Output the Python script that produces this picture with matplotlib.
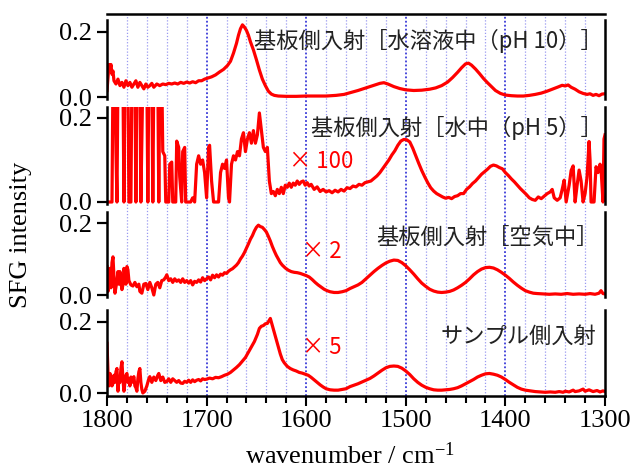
import matplotlib
matplotlib.use("Agg")
import matplotlib.pyplot as plt
import numpy as np

plt.rcParams['font.family'] = ['Liberation Serif', 'DejaVu Serif']
plt.rcParams['mathtext.fontset'] = 'custom'
plt.rcParams['mathtext.rm'] = 'Liberation Serif'
plt.rcParams['mathtext.it'] = 'Liberation Serif'

# ---------------- data ----------------
wn_ph10 = [1800, 1799, 1798, 1797, 1796, 1795, 1794, 1793, 1791, 1789, 1787, 1785, 1783, 1781, 1779,
           1777, 1775, 1773, 1771, 1769, 1767, 1765, 1763, 1761, 1759, 1757, 1755, 1753, 1750, 1747,
           1744, 1741, 1738, 1735, 1732, 1729, 1726, 1723, 1720, 1717, 1714, 1711, 1708, 1705, 1702,
           1699, 1695, 1691, 1687, 1683, 1679, 1676, 1673, 1670, 1668, 1666, 1664, 1662, 1660, 1658,
           1656, 1653, 1650, 1647, 1644, 1641, 1638, 1635, 1632, 1628, 1620, 1610, 1600, 1590, 1580,
           1570, 1562, 1555, 1548, 1540, 1532, 1526, 1522, 1518, 1512, 1506, 1500, 1492, 1484, 1476,
           1470, 1464, 1458, 1453, 1448, 1444, 1440, 1437, 1434, 1430, 1426, 1422, 1418, 1414, 1410,
           1405, 1400, 1394, 1388, 1382, 1376, 1370, 1364, 1358, 1352, 1347, 1343, 1340, 1337, 1334,
           1330, 1326, 1322, 1318, 1315, 1312, 1309, 1306, 1303, 1300]
sfg_ph10 = [0.02, 0.06, 0.10, 0.085, 0.10, 0.07, 0.08, 0.05, 0.04, 0.055, 0.035, 0.045, 0.03, 0.05, 0.035,
            0.045, 0.03, 0.04, 0.05, 0.03, 0.045, 0.035, 0.025, 0.04, 0.03, 0.035, 0.042, 0.03, 0.04, 0.035,
            0.04, 0.038, 0.042, 0.04, 0.043, 0.04, 0.045, 0.042, 0.046, 0.043, 0.047, 0.044, 0.05, 0.05, 0.055,
            0.058, 0.062, 0.068, 0.077, 0.085, 0.097, 0.11, 0.135, 0.165, 0.19, 0.21, 0.222, 0.215, 0.205, 0.19,
            0.17, 0.145, 0.115, 0.083, 0.055, 0.035, 0.018, 0.009, 0.005, 0.003, 0.002, 0.002, 0.003, 0.003, 0.003,
            0.005, 0.008, 0.014, 0.02, 0.028, 0.036, 0.042, 0.044, 0.04, 0.032, 0.026, 0.022, 0.02, 0.021, 0.024,
            0.028, 0.035, 0.046, 0.06, 0.076, 0.09, 0.102, 0.104, 0.098, 0.086, 0.072, 0.057, 0.044, 0.032, 0.02,
            0.011, 0.006, 0.004, 0.003, 0.003, 0.005, 0.008, 0.012, 0.018, 0.025, 0.031, 0.036, 0.034, 0.037, 0.03,
            0.024, 0.016, 0.011, 0.008, 0.01, 0.005, 0.008, 0.004, 0.009, 0.01]

wn_ph5 = [1800, 1795, 1794, 1792, 1791, 1790, 1789, 1784, 1783, 1782, 1779, 1778, 1776, 1775, 1772,
          1771, 1770, 1767, 1766, 1764, 1760, 1759, 1758, 1755, 1754, 1753, 1749, 1748, 1747, 1745,
          1744, 1742, 1741, 1738, 1737, 1735, 1734, 1731, 1730, 1728, 1727, 1725, 1724, 1722, 1721,
          1716, 1714, 1712, 1710, 1708, 1706, 1704, 1702, 1700, 1698, 1697, 1695, 1693, 1688, 1686,
          1684, 1682, 1680, 1678, 1677, 1675, 1673, 1671, 1669, 1667, 1665, 1663, 1661, 1659, 1657,
          1655, 1653, 1651, 1649, 1647, 1645, 1643, 1641, 1639, 1637, 1635, 1633, 1631, 1629, 1627,
          1625, 1623, 1621, 1619, 1617, 1615, 1613, 1611, 1609, 1607, 1605, 1603, 1601, 1599, 1597,
          1595, 1592, 1589, 1586, 1583, 1580, 1577, 1574, 1571, 1568, 1565, 1562, 1559, 1556, 1553,
          1550, 1547, 1544, 1541, 1538, 1535, 1532, 1529, 1526, 1523, 1520, 1517, 1514, 1511, 1508,
          1505, 1502, 1499, 1496, 1493, 1490, 1487, 1484, 1481, 1478, 1475, 1472, 1469, 1466, 1463,
          1460, 1457, 1454, 1451, 1448, 1445, 1442, 1439, 1436, 1433, 1430, 1427, 1424, 1421, 1418,
          1415, 1412, 1409, 1406, 1403, 1400, 1397, 1394, 1391, 1388, 1385, 1382, 1379, 1376, 1373,
          1370, 1367, 1364, 1361, 1358, 1355, 1353, 1351, 1348, 1345, 1343, 1341, 1339, 1336, 1334,
          1332, 1330, 1328, 1326, 1324, 1322, 1320, 1318, 1316, 1315, 1314, 1311, 1309, 1307, 1305,
          1304, 1302, 1301, 1300]
sfg_ph5 = [0.0, 0.0, 0.3, 0.3, 0.12, 0.0, 0.3, 0.3, 0.0, 0.3, 0.3, 0.0, 0.0, 0.3, 0.3,
           0.0, 0.3, 0.3, 0.0, 0.3, 0.3, 0.0, 0.3, 0.3, 0.0, 0.3, 0.3, 0.0, 0.3, 0.3,
           0.12, 0.11, 0.0, 0.0, 0.09, 0.095, 0.0, 0.0, 0.145, 0.13, 0.06, 0.0, 0.12, 0.13, 0.0,
           0.0, 0.01, 0.0, 0.09, 0.11, 0.09, 0.1, 0.07, 0.01, 0.13, 0.135, 0.05, 0.0, 0.0, 0.07,
           0.09, 0.08, 0.1, 0.01, 0.0, 0.09, 0.11, 0.1, 0.12, 0.11, 0.15, 0.165, 0.12, 0.15, 0.165,
           0.14, 0.17, 0.14, 0.16, 0.212, 0.17, 0.13, 0.12, 0.13, 0.05, 0.02, 0.025, 0.015, 0.03, 0.02,
           0.035, 0.02, 0.04, 0.035, 0.045, 0.035, 0.045, 0.04, 0.05, 0.042, 0.048, 0.05, 0.04, 0.046, 0.038,
           0.042, 0.03, 0.036, 0.025, 0.03, 0.024, 0.027, 0.022, 0.028, 0.024, 0.03, 0.026, 0.034, 0.032, 0.038,
           0.036, 0.042, 0.04, 0.046, 0.048, 0.05, 0.056, 0.062, 0.07, 0.08, 0.09, 0.1, 0.112, 0.122, 0.135,
           0.145, 0.149, 0.148, 0.143, 0.128, 0.11, 0.092, 0.075, 0.06, 0.046, 0.034, 0.026, 0.02, 0.016, 0.012,
           0.009, 0.011, 0.008, 0.013, 0.015, 0.02, 0.02, 0.03, 0.036, 0.044, 0.05, 0.058, 0.066, 0.072, 0.078,
           0.085, 0.088, 0.086, 0.082, 0.079, 0.07, 0.063, 0.055, 0.048, 0.04, 0.032, 0.025, 0.018, 0.01, 0.006,
           0.004, 0.012, 0.008, 0.014, 0.02, 0.024, 0.03, 0.01, 0.004, 0.01, 0.03, 0.052, 0.0, 0.04, 0.075,
           0.086, 0.0, 0.04, 0.076, 0.05, 0.0, 0.02, 0.06, 0.144, 0.10, 0.0, 0.0, 0.084, 0.07, 0.09,
           0.08, 0.0, 0.15, 0.16]

wn_air = [1800, 1799, 1798, 1797, 1796, 1795, 1794, 1793, 1792, 1790, 1789, 1788, 1787, 1786, 1785,
          1784, 1783, 1782, 1781, 1780, 1779, 1778, 1776, 1774, 1772, 1770, 1768, 1767, 1765, 1763,
          1761, 1759, 1757, 1755, 1753, 1751, 1749, 1747, 1745, 1743, 1741, 1740, 1738, 1736, 1734,
          1732, 1730, 1728, 1726, 1724, 1722, 1720, 1718, 1716, 1714, 1712, 1710, 1708, 1706, 1704,
          1702, 1700, 1698, 1696, 1694, 1692, 1690, 1688, 1686, 1684, 1682, 1680, 1678, 1676, 1674,
          1672, 1670, 1668, 1666, 1664, 1662, 1660, 1658, 1656, 1654, 1652, 1650, 1648, 1646, 1644,
          1642, 1640, 1638, 1636, 1634, 1632, 1630, 1628, 1626, 1624, 1621, 1618, 1615, 1612, 1609,
          1606, 1603, 1600, 1597, 1594, 1591, 1588, 1585, 1582, 1579, 1576, 1572, 1568, 1564, 1560,
          1556, 1552, 1548, 1544, 1540, 1536, 1532, 1528, 1524, 1520, 1516, 1512, 1508, 1504, 1500,
          1496, 1492, 1488, 1484, 1480, 1476, 1472, 1468, 1464, 1460, 1456, 1452, 1448, 1444, 1440,
          1436, 1432, 1428, 1424, 1420, 1416, 1412, 1408, 1404, 1400, 1396, 1392, 1388, 1384, 1380,
          1376, 1372, 1368, 1362, 1356, 1350, 1344, 1338, 1332, 1326, 1320, 1315, 1310, 1306, 1304,
          1302, 1300]
sfg_air = [0.079, 0.01, 0.06, 0.074, 0.02, 0.09, 0.106, 0.05, 0.005, 0.04, 0.065, 0.03, 0.065, 0.035, 0.015,
           0.028, 0.074, 0.06, 0.03, 0.079, 0.07, 0.04, 0.028, 0.025, 0.035, 0.023, 0.03, 0.01, 0.005, 0.03,
           0.032, 0.015, 0.035, 0.02, 0.0, 0.03, 0.035, 0.02, 0.04, 0.042, 0.05, 0.056, 0.04, 0.045, 0.035,
           0.045, 0.038, 0.042, 0.035, 0.045, 0.035, 0.04, 0.033, 0.04, 0.028, 0.038, 0.035, 0.042, 0.036, 0.048,
           0.04, 0.045, 0.05, 0.042, 0.055, 0.048, 0.056, 0.05, 0.058, 0.055, 0.062, 0.06, 0.066, 0.07, 0.073,
           0.078, 0.083, 0.09, 0.1, 0.108, 0.118, 0.13, 0.142, 0.155, 0.165, 0.178, 0.188, 0.194, 0.19, 0.188,
           0.182, 0.175, 0.163, 0.15, 0.135, 0.122, 0.11, 0.1, 0.09, 0.083, 0.075, 0.069, 0.065, 0.063, 0.062,
           0.06, 0.057, 0.054, 0.05, 0.043, 0.035, 0.028, 0.022, 0.016, 0.012, 0.009, 0.007, 0.007, 0.009, 0.012,
           0.018, 0.023, 0.028, 0.035, 0.045, 0.055, 0.065, 0.074, 0.082, 0.089, 0.094, 0.097, 0.096, 0.09, 0.081,
           0.07, 0.058, 0.045, 0.033, 0.024, 0.016, 0.011, 0.008, 0.007, 0.008, 0.01, 0.014, 0.02, 0.027, 0.035,
           0.045, 0.056, 0.065, 0.072, 0.076, 0.077, 0.075, 0.07, 0.063, 0.055, 0.046, 0.036, 0.027, 0.019, 0.012,
           0.008, 0.005, 0.004, 0.003, 0.002, 0.003, 0.002, 0.004, 0.002, 0.003, 0.002, 0.004, 0.002, 0.005, 0.012,
           0.004, 0.003]

wn_sample = [1800, 1799, 1798, 1797, 1796, 1795, 1794, 1793, 1792, 1791, 1790, 1789, 1788, 1787, 1786,
             1785, 1784, 1783, 1782, 1781, 1780, 1779, 1778, 1777, 1776, 1775, 1774, 1773, 1772, 1771,
             1770, 1769, 1768, 1767, 1766, 1765, 1764, 1762, 1760, 1758, 1757, 1755, 1753, 1751, 1749,
             1748, 1746, 1744, 1742, 1740, 1738, 1736, 1734, 1732, 1730, 1728, 1726, 1724, 1722, 1720,
             1718, 1716, 1714, 1712, 1710, 1708, 1706, 1704, 1702, 1700, 1697, 1694, 1691, 1688, 1685,
             1682, 1679, 1676, 1673, 1670, 1667, 1664, 1661, 1658, 1655, 1652, 1649, 1647, 1645, 1643,
             1641, 1639, 1637, 1636, 1634, 1632, 1630, 1628, 1626, 1624, 1622, 1619, 1616, 1613, 1610,
             1607, 1604, 1601, 1598, 1595, 1592, 1589, 1586, 1583, 1580, 1576, 1572, 1568, 1564, 1560,
             1556, 1552, 1548, 1544, 1540, 1536, 1532, 1528, 1524, 1520, 1516, 1512, 1508, 1504, 1500,
             1496, 1492, 1488, 1484, 1480, 1476, 1472, 1468, 1464, 1460, 1456, 1452, 1448, 1444, 1440,
             1436, 1432, 1428, 1424, 1420, 1416, 1412, 1408, 1404, 1400, 1396, 1392, 1388, 1384, 1380,
             1375, 1370, 1365, 1360, 1355, 1350, 1346, 1342, 1340, 1336, 1332, 1330, 1326, 1322, 1320,
             1316, 1312, 1308, 1305, 1302, 1300]
sfg_sample = [0.14, 0.06, 0.02, 0.055, 0.04, 0.02, 0.027, 0.05, 0.03, 0.06, 0.069, 0.005, 0.04, 0.03, 0.07,
              0.088, 0.04, 0.005, 0.03, 0.05, 0.055, 0.03, 0.04, 0.02, 0.045, 0.03, 0.04, 0.046, 0.02, 0.015,
              0.005, 0.04, 0.06, 0.069, 0.03, 0.01, 0.0, 0.005, 0.02, 0.04, 0.046, 0.03, 0.045, 0.035, 0.05,
              0.055, 0.035, 0.045, 0.03, 0.032, 0.04, 0.03, 0.04, 0.035, 0.03, 0.035, 0.028, 0.027, 0.033, 0.03,
              0.036, 0.03, 0.037, 0.032, 0.036, 0.038, 0.034, 0.04, 0.038, 0.039, 0.042, 0.04, 0.044, 0.043, 0.046,
              0.05, 0.053, 0.058, 0.065, 0.072, 0.08, 0.09, 0.1, 0.115, 0.13, 0.145, 0.165, 0.182, 0.188, 0.19,
              0.195, 0.196, 0.205, 0.21, 0.19, 0.17, 0.15, 0.13, 0.11, 0.094, 0.085, 0.075, 0.069, 0.065, 0.062,
              0.058, 0.056, 0.053, 0.05, 0.044, 0.037, 0.03, 0.023, 0.017, 0.012, 0.009, 0.008, 0.008, 0.01, 0.012,
              0.018, 0.022, 0.026, 0.031, 0.036, 0.041, 0.048, 0.056, 0.064, 0.071, 0.075, 0.076, 0.075, 0.07, 0.062,
              0.052, 0.04, 0.03, 0.022, 0.016, 0.012, 0.009, 0.008, 0.008, 0.009, 0.01, 0.012, 0.015, 0.02, 0.026,
              0.032, 0.038, 0.045, 0.05, 0.054, 0.055, 0.053, 0.05, 0.045, 0.038, 0.03, 0.023, 0.016, 0.011, 0.008,
              0.006, 0.004, 0.003, 0.002, 0.003, 0.002, 0.004, 0.002, 0.005, 0.003, 0.008, 0.004, 0.006, 0.011, 0.005,
              0.009, 0.004, 0.007, 0.003, 0.006, 0.004]

panel_labels = ["基板側入射［水溶液中（pH 10）］", "基板側入射［水中（pH 5）］",
                "基板側入射［空気中］", "サンプル側入射"]
scale_labels = [None, "× 100", "× 2", "× 5"]
x_ticks = [1800, 1700, 1600, 1500, 1400, 1300]
y_ticks = [0.0, 0.2]

# ---------------- layout ----------------
W, H = 635, 470
fig = plt.figure(figsize=(W / 100, H / 100), dpi=100)

def fx(px):
    return px / W

def fy(py):
    return 1 - py / H

x_left, x_right = 107, 605
# (zero pixel, pixels per unit, top pixel, bottom pixel, spine top value)
panels = [(97, 325, 14, 99, 0.237),
          (202, 420, 107, 204, 0.226),
          (295, 360, 212, 297, 0.230),
          (393, 355, 310, 396, 0.234)]

# background grid axes
bg = fig.add_axes([fx(x_left), fy(396), fx(x_right - x_left), (396 - 14) / H])
bg.set_xlim(1800, 1300)
bg.set_ylim(0, 1)
bg.axis('off')
for v in range(1780, 1300, -20):
    if v % 100 == 0:
        bg.axvline(v, color='#3a3ad8', lw=1.3, ls=(0, (1, 1.2)))
    else:
        bg.axvline(v, color='#9a9af0', lw=0.9, ls=(0, (1, 1.5)))

series = [(wn_ph10, sfg_ph10), (wn_ph5, sfg_ph5), (wn_air, sfg_air), (wn_sample, sfg_sample)]
red = '#ff0000'
for i, ((z, s, t, b, stop), (wx, wy)) in enumerate(zip(panels, series)):
    ax = fig.add_axes([fx(x_left), fy(b), fx(x_right - x_left), (b - t) / H])
    ax.set_facecolor('none')
    ax.set_xlim(1800, 1300)
    ylo, yhi = (z - b) / s, (z - t) / s
    ax.set_ylim(ylo, yhi)
    ax.plot(wx, wy, color=red, lw=2.3, solid_joinstyle='round')
    for sp in ['left', 'right', 'top', 'bottom']:
        ax.spines[sp].set_linewidth(1.8)
    ax.spines['left'].set_bounds(ylo, stop)
    ax.spines['right'].set_bounds(ylo, stop)
    ax.spines['top'].set_visible(i == 0)
    ax.spines['bottom'].set_visible(i == 3)
    ax.set_yticks(y_ticks)
    ax.set_yticklabels([f"{v:.1f}" for v in y_ticks])
    ax.tick_params(axis='y', direction='out', length=7, width=1.6, labelsize=19, pad=4)
    if i == 3:
        ax.set_xticks(x_ticks)
        ax.set_xticks(list(range(1780, 1300, -20)), minor=True)
        ax.tick_params(axis='x', which='major', direction='out', length=7, width=1.5,
                       labelsize=19, pad=3)
        ax.tick_params(axis='x', which='minor', direction='out', length=5, width=1.5)
    else:
        ax.set_xticks([])

# texts
jp = ['Noto Sans CJK JP', 'DejaVu Sans']
txt_col = '#222222'
fig.text(fx(603), fy(41), panel_labels[0], family=jp, fontsize=16, color=txt_col, ha='right', va='center')
fig.text(fx(603), fy(128), panel_labels[1], family=jp, fontsize=16, color=txt_col, ha='right', va='center')
fig.text(fx(599), fy(237), panel_labels[2], family=jp, fontsize=16, color=txt_col, ha='right', va='center')
fig.text(fx(596), fy(336), panel_labels[3], family=jp, fontsize=16, color=txt_col, ha='right', va='center')
fig.text(fx(289), fy(162), scale_labels[1], family=jp, fontsize=16, color=red, ha='left', va='center')
fig.text(fx(302), fy(252), scale_labels[2], family=jp, fontsize=16, color=red, ha='left', va='center')
fig.text(fx(302), fy(347), scale_labels[3], family=jp, fontsize=16, color=red, ha='left', va='center')

fig.text(fx(21), fy(235), "SFG intensity", fontsize=19, rotation=90, ha='center', va='center')
fig.text(fx(350), fy(456), r"wavenumber / cm$^{-1}$", fontsize=19, ha='center', va='center')

fig.savefig("out.png", dpi=100)
